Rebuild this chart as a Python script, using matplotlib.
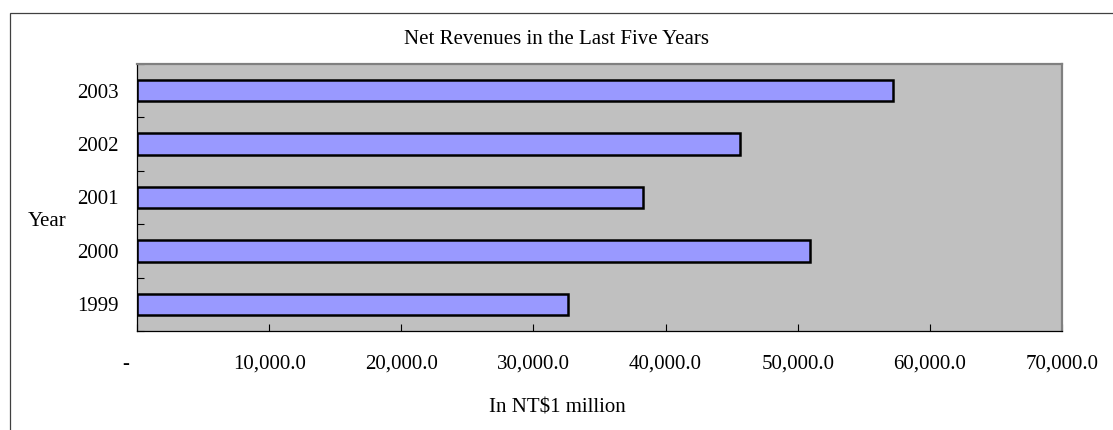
import matplotlib
matplotlib.use("Agg")
import matplotlib.pyplot as plt
from matplotlib.patches import Rectangle
import numpy as np

years = ["1999", "2000", "2001", "2002", "2003"]
revenues = [32600, 50900, 38300, 45600, 57200]
x_ticks = [0, 10000, 20000, 30000, 40000, 50000, 60000, 70000]
x_tick_labels = ["-    ", "10,000.0", "20,000.0", "30,000.0", "40,000.0",
                 "50,000.0", "60,000.0", "70,000.0"]
title = "Net Revenues in the Last Five Years"
xlabel = "In NT$1 million"
ylabel = "Year"

plt.rcParams['font.family'] = ['Liberation Serif', 'DejaVu Serif']

W, H = 1113, 430
FS = 15
fig = plt.figure(figsize=(W / 100, H / 100), dpi=100)
fig.patch.set_facecolor("white")

# chart-area border (right and bottom run off the image)
fig.patches.append(Rectangle((10 / W, -0.02), 1.1, (H - 13) / H + 0.02,
                             transform=fig.transFigure, fill=False,
                             edgecolor="#404040", linewidth=0.9))

left, right, top, bottom = 137, 1062, 64, 331
ax = fig.add_axes([left / W, 1 - bottom / H, (right - left) / W, (bottom - top) / H])
ax.set_facecolor("#C0C0C0")

pos = np.arange(len(years))
ax.barh(pos, revenues, height=0.4, color="#9999FF", edgecolor="black", linewidth=1.8)

ax.set_xlim(0, 70000)
ax.set_ylim(-0.5, len(years) - 0.5)

ax.set_xticks(x_ticks)
ax.set_xticklabels(x_tick_labels, fontsize=FS)
ax.tick_params(axis="x", direction="in", length=5, width=0.8, pad=17, colors="black")

ax.set_yticks(pos)
ax.set_yticklabels(years, fontsize=FS)
ax.tick_params(axis="y", which="major", length=0, pad=13)
ax.set_yticks(np.arange(-0.5, len(years)), minor=True)
ax.tick_params(axis="y", which="minor", direction="in", length=5, width=0.8)

for s in ["left", "bottom"]:
    ax.spines[s].set_color("black")
    ax.spines[s].set_linewidth(0.9)
for s in ["top", "right"]:
    ax.spines[s].set_color("#808080")
    ax.spines[s].set_linewidth(1.6)

fig.text(557 / W, 1 - 39 / H, title, ha="center", va="center", fontsize=FS)
fig.text(557 / W, 1 - 408 / H, xlabel, ha="center", va="center", fontsize=FS)
fig.text(47 / W, 1 - 222 / H, ylabel, ha="center", va="center", fontsize=FS)

fig.savefig("out.png", dpi=100, facecolor="white")
